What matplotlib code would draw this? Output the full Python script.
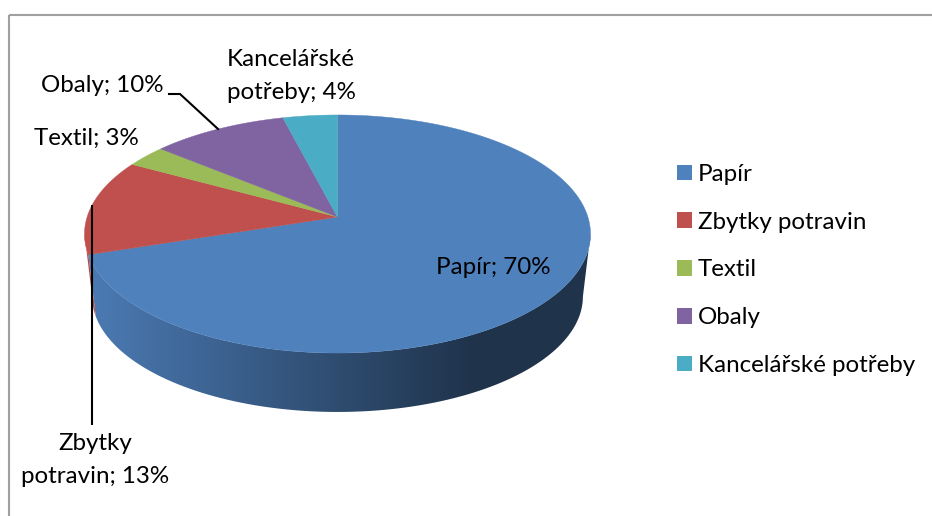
import numpy as np
import matplotlib
matplotlib.use("Agg")
import matplotlib.pyplot as plt
from matplotlib.patches import Polygon, Patch, Rectangle
from matplotlib.colors import to_rgb

categories = ["Papír", "Zbytky potravin", "Textil", "Obaly", "Kancelářské potřeby"]
values = [70, 13, 3, 10, 4]
colors = ["#4F81BD", "#C0504D", "#9BBB59", "#8064A2", "#4BACC6"]

plt.rcParams["font.family"] = ["Lato", "DejaVu Sans"]
FS = 17.4

fig = plt.figure(figsize=(9.32, 5.16), dpi=100)
ax = fig.add_axes([0, 0, 1, 1])
ax.axis("off")

CX, CY, K, A, B = 337.5, 217.0, 1 / 7, 116.6, 250.4
DROP, SHRINK = 63.0, 0.97


def project(t, scale=1.0, dy=0.0):
    u, v = np.sin(t), np.cos(t)
    d = 1 + K * v
    return CX + scale * B * u / d, CY + dy - scale * A * v / d


# frame
ax.add_patch(Rectangle((9, 15), 1200, 1200, fill=False, ec="#a0a0a0", lw=1.5, zorder=1))

fractions = np.cumsum([0] + values) / sum(values) * 2 * np.pi
t_hidden_start = np.arccos(-K)
t_hidden_end = 2 * np.pi - t_hidden_start

# side wall: horizontal gradient clipped to the visible arc of each slice
grad_x = np.arange(932)
grad_shade = np.interp(grad_x, [88, 470], [0.95, 0.40])
for i, col in enumerate(colors):
    t0 = max(fractions[i], t_hidden_start)
    t1 = min(fractions[i + 1], t_hidden_end)
    if t1 <= t0:
        continue
    ts = np.linspace(t0, t1, 200)
    xt, yt = project(ts)
    xb, yb = project(ts[::-1], SHRINK, DROP)
    clip = Polygon(np.column_stack([np.r_[xt, xb], np.r_[yt, yb]]), closed=True,
                   transform=ax.transData, fc="none", ec="none")
    ax.add_patch(clip)
    img = np.outer(grad_shade, np.array(to_rgb(col)))[None, :, :]
    im = ax.imshow(img, extent=(0, 932, 516, 0), aspect="auto", interpolation="bilinear", zorder=2)
    im.set_clip_path(clip)

ax.set_xlim(0, 932)
ax.set_ylim(516, 0)

# top face
for i, col in enumerate(colors):
    ts = np.linspace(fractions[i], fractions[i + 1], 200)
    xs, ys = project(ts)
    pts = np.column_stack([np.r_[CX, xs], np.r_[CY, ys]])
    ax.add_patch(Polygon(pts, closed=True, fc=col, ec=col, lw=0.3, zorder=3))

# leader lines
ax.plot([92, 92], [205, 425], color="black", lw=1.5, zorder=4, solid_capstyle="butt")
ax.plot([169, 180, 218], [94, 94, 129], color="black", lw=1.5, zorder=4, solid_joinstyle="miter")

# data labels
labels = [
    (493, 268, f"{categories[0]}; {values[0]}%"),
    (95, 460, f"Zbytky\npotravin; {values[1]}%"),
    (86, 138, f"{categories[2]}; {values[2]}%"),
    (102, 86, f"{categories[3]}; {values[3]}%"),
    (291, 76, f"Kancelářské\npotřeby; {values[4]}%"),
]
for x, y, s in labels:
    ax.text(x, y, s, ha="center", va="center", fontsize=FS, color="black", zorder=5, linespacing=1.72)

handles = [Patch(fc=c, ec="none") for c in colors]
ax.legend(handles, categories, loc="center left", bbox_to_anchor=(677, 270), bbox_transform=ax.transData,
          frameon=False, fontsize=FS, labelspacing=1.11, handlelength=0.62, handleheight=0.62,
          handletextpad=0.25, borderpad=0, borderaxespad=0)

fig.savefig("out.png", dpi=100, facecolor="white")
